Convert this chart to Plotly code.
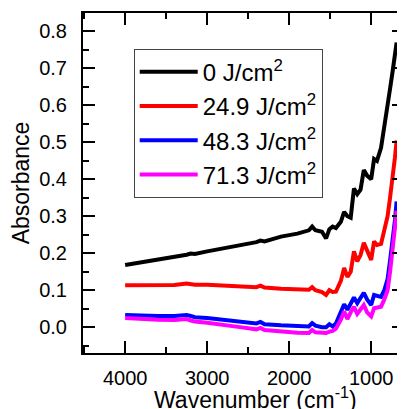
import plotly.graph_objects as go

wavenumber = [4000, 3800, 3600, 3400, 3250, 3200, 3150, 3000, 2800, 2600, 2400, 2350, 2300,
              2100, 1900, 1760, 1720, 1680, 1600, 1550, 1510, 1470, 1430, 1370, 1330, 1290,
              1250, 1210, 1170, 1130, 1090, 1050, 1000, 965, 930, 880, 840, 800, 770, 740,
              710, 690]

abs_0 = [0.168, 0.175, 0.182, 0.190, 0.196, 0.199, 0.198, 0.205, 0.213, 0.222, 0.230, 0.234,
         0.232, 0.245, 0.253, 0.262, 0.272, 0.262, 0.258, 0.240, 0.265, 0.272, 0.268, 0.285,
         0.312, 0.300, 0.296, 0.375, 0.360, 0.372, 0.425, 0.410, 0.400, 0.455, 0.450, 0.485,
         0.550, 0.600, 0.645, 0.690, 0.740, 0.770]

abs_249 = [0.113, 0.113, 0.113, 0.114, 0.118, 0.116, 0.115, 0.115, 0.112, 0.110, 0.108, 0.112,
           0.107, 0.104, 0.102, 0.101, 0.108, 0.100, 0.095, 0.087, 0.100, 0.095, 0.096, 0.125,
           0.160, 0.136, 0.150, 0.205, 0.178, 0.195, 0.228, 0.205, 0.182, 0.232, 0.222, 0.225,
           0.260, 0.300, 0.350, 0.400, 0.460, 0.505]

abs_483 = [0.033, 0.031, 0.030, 0.030, 0.033, 0.030, 0.027, 0.025, 0.020, 0.015, 0.010, 0.014,
           0.008, 0.005, 0.003, 0.002, 0.011, 0.004, 0.000, 0.000, 0.008, 0.002, 0.010, 0.040,
           0.062, 0.047, 0.062, 0.080, 0.065, 0.080, 0.093, 0.075, 0.060, 0.087, 0.085, 0.082,
           0.100, 0.130, 0.180, 0.230, 0.290, 0.340]

abs_713 = [0.025, 0.022, 0.020, 0.019, 0.022, 0.018, 0.015, 0.012, 0.005, 0.000, -0.006, -0.002,
           -0.008, -0.012, -0.015, -0.016, -0.008, -0.014, -0.016, -0.016, -0.012, -0.010, -0.004,
           0.020, 0.042, 0.022, 0.040, 0.055, 0.036, 0.050, 0.060, 0.040, 0.029, 0.051, 0.052,
           0.055, 0.075, 0.100, 0.150, 0.200, 0.270, 0.315]

series_names = ["0 J/cm<sup>2</sup>", "24.9 J/cm<sup>2</sup>", "48.3 J/cm<sup>2</sup>", "71.3 J/cm<sup>2</sup>"]
series_values = [abs_0, abs_249, abs_483, abs_713]
series_colors = ["#000000", "#ff0000", "#0000ff", "#ff00ff"]

x_ticks = [4000, 3000, 2000, 1000]
y_ticks = [0.0, 0.1, 0.2, 0.3, 0.4, 0.5, 0.6, 0.7, 0.8]

FONT = "Liberation Sans, Arial, sans-serif"

fig = go.Figure()
for name, vals, col in zip(series_names, series_values, series_colors):
    fig.add_trace(go.Scatter(x=wavenumber, y=vals, mode="lines", name=name,
                             line=dict(color=col, width=4)))

axis_common = dict(showline=True, linecolor="black", linewidth=2, mirror="allticks",
                   ticks="inside", tickwidth=2, ticklen=12, tickcolor="black",
                   showgrid=False, zeroline=False, automargin=False,
                   tickfont=dict(family=FONT, size=20, color="black"))

fig.update_xaxes(range=[4514, 600], tickvals=x_ticks, ticktext=[str(v) for v in x_ticks],
                 minor=dict(ticks="inside", dtick=500, ticklen=6, tickwidth=2, tickcolor="black"),
                 ticklabelstandoff=6,
                 **axis_common)
fig.update_yaxes(range=[-0.07, 0.85], tickvals=y_ticks, ticktext=[f"{v:.1f}" for v in y_ticks],
                 minor=dict(ticks="inside", dtick=0.05, tick0=0, ticklen=6, tickwidth=2, tickcolor="black"),
                 title=dict(text="Absorbance", font=dict(family=FONT, size=23, color="black"),
                            standoff=3),
                 ticklabelstandoff=10,
                 **axis_common)

fig.add_annotation(text="Wavenumber (cm<sup>-1</sup>)", xref="paper", yref="paper",
                   x=0.536, y=-0.082, xanchor="center", yanchor="top", showarrow=False,
                   font=dict(family=FONT, size=23, color="black"))

fig.update_layout(
    width=397, height=401,
    margin=dict(l=75, r=1, t=5, b=56, autoexpand=False),
    plot_bgcolor="white", paper_bgcolor="white",
    legend=dict(x=0.158, y=0.895, xanchor="left", yanchor="top",
                bgcolor="white", bordercolor="#444", borderwidth=1,
                font=dict(family=FONT, size=24, color="black"),
                itemwidth=58, tracegroupgap=0),
    showlegend=True,
)

fig.write_html("out.html")
